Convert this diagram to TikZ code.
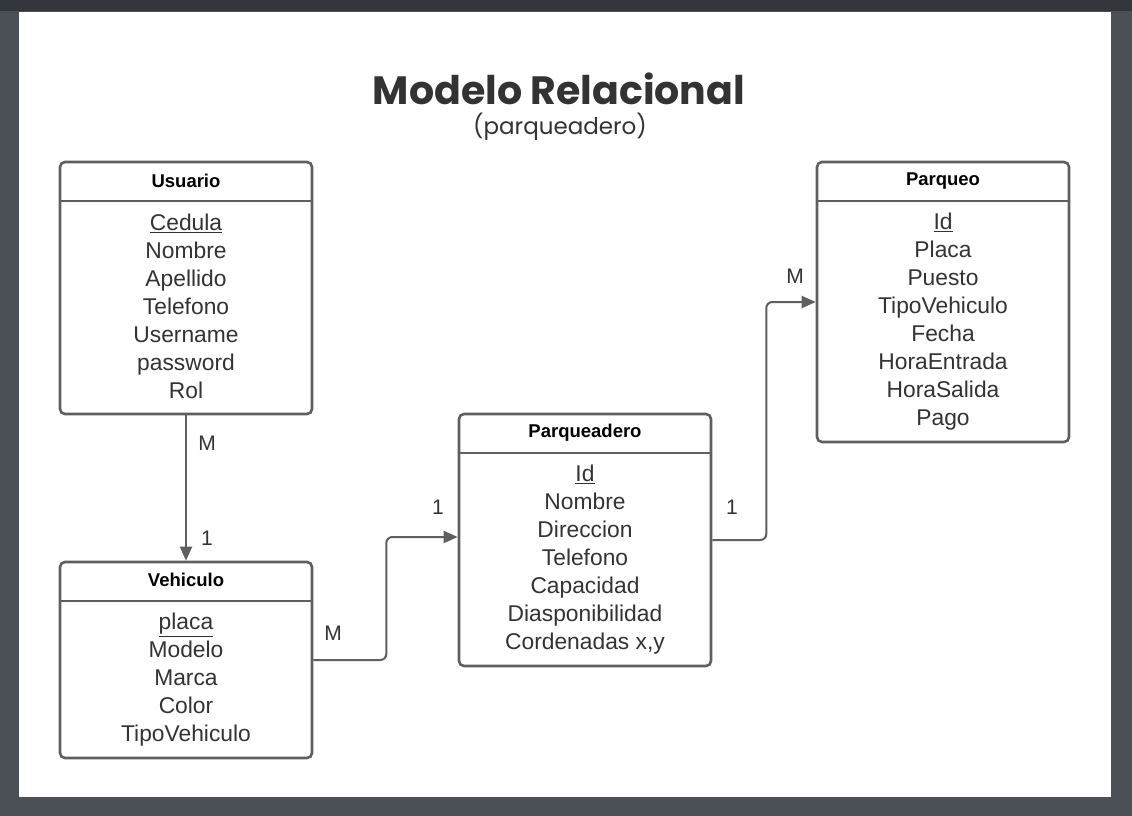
\documentclass[tikz,border=0pt]{standalone}
\usepackage{fontspec}
\setmainfont{Liberation Sans}
\newfontfamily\titlefont{Poppins}
\usepackage{xcolor}
\usetikzlibrary{arrows.meta}

\definecolor{frame}{HTML}{4B5056}
\definecolor{topbar}{HTML}{33373B}
\definecolor{edge}{HTML}{5F5F5F}
\definecolor{ink}{HTML}{333333}

\tikzset{
  entity/.style={draw=edge, line width=2.6pt, rounded corners=5pt, minimum width=252pt, inner sep=0pt},
  header/.style={font=\fontsize{18.5}{21}\selectfont\bfseries, text=black},
  fields/.style={font=\fontsize{22.8}{28}\selectfont, text=ink, align=center},
  card/.style={font=\fontsize{21}{24}\selectfont, text=ink},
  rel/.style={draw=edge, line width=2pt, rounded corners=6pt, -{Triangle[length=14pt,width=12pt]}}
}

\begin{document}
\begin{tikzpicture}[x=1pt,y=-1pt]
        % page
        \fill[frame] (0,0) rectangle (1132,816);
        \fill[topbar] (0,0) rectangle (1132,11);
        \fill[white] (19,12) rectangle (1111,797);
        \useasboundingbox (0,0) rectangle (1132,816);

        % title
        \node[text=ink, font=\titlefont\fontsize{39.5}{42}\selectfont\bfseries] (title) at (559,89) {Modelo Relacional};
        \node[text=ink, font=\titlefont\fontsize{23}{26}\selectfont] (subtitle) at (560,127) {(parqueadero)};

        % Usuario
        \node[entity, minimum height=252pt] (usuario) at (186,288) {};
        \draw[edge, line width=2.6pt] (60,201) -- (312,201);
        \node[header] at (186,181) {Usuario};
        \node[fields] at (186,306) {\underline{Cedula}\\Nombre\\Apellido\\Telefono\\Username\\password\\Rol};

        % Vehiculo
        \node[entity, minimum height=196pt] (vehiculo) at (186,660) {};
        \draw[edge, line width=2.6pt] (60,601) -- (312,601);
        \node[header] at (186,580) {Vehiculo};
        \node[fields] at (186,680) {\underline{placa}\\Modelo\\Marca\\Color\\TipoVehiculo};

        % Parqueadero
        \node[entity, minimum height=252pt] (parqueadero) at (585,540) {};
        \draw[edge, line width=2.6pt] (459,453) -- (711,453);
        \node[header] at (585,433) {Parqueadero};
        \node[fields] at (585,560) {\underline{Id}\\Nombre\\Direccion\\Telefono\\Capacidad\\Diasponibilidad\\Cordenadas x,y};

        % Parqueo
        \node[entity, minimum height=280pt] (parqueo) at (943,302) {};
        \draw[edge, line width=2.6pt] (817,201) -- (1069,201);
        \node[header] at (943,181) {Parqueo};
        \node[fields] at (943,322) {\underline{Id}\\Placa\\Puesto\\TipoVehiculo\\Fecha\\HoraEntrada\\HoraSalida\\Pago};

        % relations
        \draw[rel] (usuario.south) -- (vehiculo.north);
        \node[card] at (207,443) {M};
        \node[card] at (207,538) {1};

        \draw[rel] (vehiculo.east) -- ++(73,0) |- ([yshift=3pt]parqueadero.west);
        \node[card] at (333,633) {M};
        \node[card] at (438,507) {1};

        \draw[rel] (parqueadero.east) -- ++(54,0) |- (parqueo.west);
        \node[card] at (732,507) {1};
        \node[card] at (795,276) {M};
\end{tikzpicture}
\end{document}
